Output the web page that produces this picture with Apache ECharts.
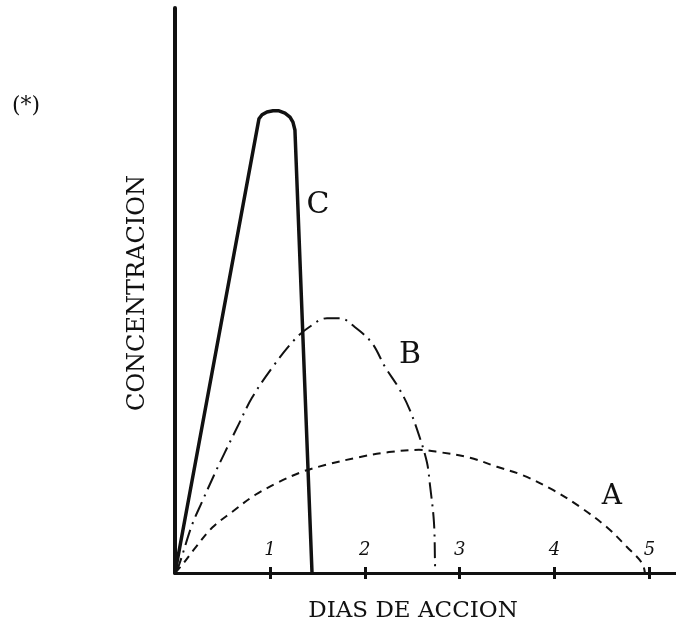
<!DOCTYPE html>
<html>
<head>
<meta charset="utf-8">
<script src="https://cdn.jsdelivr.net/npm/echarts@6/dist/echarts.min.js"></script>
<style>html,body{margin:0;padding:0;background:#fff}#c{width:676px;height:627px}</style>
</head>
<body>
<div id="c"></div>
<script>
// Days of action (x) vs concentration (y, arbitrary units 0-100)
var xTicks = [1, 2, 3, 4, 5];
var curveC = [[0,0],[0.875,79.5],[0.885,80.4],[0.917,81.1],[0.969,81.6],[1.033,81.8],[1.096,81.8],[1.159,81.4],[1.212,80.7],[1.243,79.8],[1.264,78.4],[1.444,0]];
var curveB = [[0,0],[0.042,1.4],[0.179,8.5],[0.285,12.6],[0.411,17.3],[0.527,21.4],[0.653,25.7],[0.811,31.0],[1.022,36.3],[1.254,41.2],[1.412,43.5],[1.602,45.1],[1.739,45.1],[1.897,43.5],[2.076,40.7],[2.213,36.5],[2.360,32.7],[2.466,29.2],[2.571,24.4],[2.655,19.6],[2.687,15.6],[2.729,9.0],[2.740,1.9],[2.742,0]];
var curveA = [[0,0],[0.074,1.4],[0.211,4.4],[0.390,8.0],[0.601,10.8],[0.843,13.8],[1.096,16.1],[1.338,17.9],[1.581,19.1],[1.939,20.5],[2.255,21.4],[2.571,21.8],[2.782,21.4],[3.109,20.4],[3.393,18.8],[3.667,17.3],[3.983,14.7],[4.268,11.7],[4.552,8.1],[4.763,4.6],[4.921,1.8],[4.953,0]];
var curveNames = ['C', 'B', 'A'];
var labelPos = [[1.507, 65.1], [2.476, 38.6], [4.605, 13.5]];
var xTitle = 'DIAS DE ACCION';
var yTitle = 'CONCENTRACION';
var note = '(*)';

var ink = '#111';
var chart = echarts.init(document.getElementById('c'), null, {renderer: 'canvas'});

function mp(i, size) {
  return {
    symbol: 'circle', symbolSize: 0, silent: true,
    data: [{coord: labelPos[i], value: curveNames[i]}],
    label: {show: true, formatter: curveNames[i], color: ink, fontFamily: 'DejaVu Serif', fontSize: size, position: 'inside'}
  };
}

chart.setOption({
  animation: false,
  backgroundColor: '#fff',
  grid: {left: 175, right: 0, top: 8, bottom: 54},
  xAxis: [{
    type: 'value', min: 0, max: 5.28, interval: 1,
    axisLine: {show: true, onZero: false, lineStyle: {color: ink, width: 3}},
    axisTick: {show: true, inside: true, length: 6, customValues: xTicks, lineStyle: {color: ink, width: 3}},
    axisLabel: {show: true, inside: true, margin: 14, color: ink, fontFamily: 'DejaVu Serif', fontStyle: 'italic', fontSize: 18,
      customValues: xTicks},
    splitLine: {show: false}
  }, {
    type: 'value', min: 0, max: 5.28, interval: 1, position: 'bottom',
    axisLine: {show: false},
    axisTick: {show: true, inside: false, length: 6, customValues: xTicks, lineStyle: {color: ink, width: 3}},
    axisLabel: {show: false},
    splitLine: {show: false}
  }],
  yAxis: {
    type: 'value', min: 0, max: 100,
    axisLine: {show: true, lineStyle: {color: ink, width: 4}},
    axisTick: {show: false}, axisLabel: {show: false}, splitLine: {show: false}
  },
  series: [{
    name: 'C', type: 'line', data: curveC, symbol: 'none', smooth: false,
    lineStyle: {color: ink, width: 3.5, join: 'round', cap: 'round'},
    markPoint: mp(0, 30)
  }, {
    name: 'B', type: 'line', data: curveB, symbol: 'none', smooth: 0.35,
    lineStyle: {color: ink, width: 2, type: [16, 6, 2, 6]},
    markPoint: mp(1, 30)
  }, {
    name: 'A', type: 'line', data: curveA, symbol: 'none', smooth: 0.35,
    lineStyle: {color: ink, width: 2, type: [8, 6]},
    markPoint: mp(2, 28)
  }],
  graphic: [
    {type: 'text', x: 26, y: 106, style: {text: note, fill: ink, font: '22px "DejaVu Serif"', textAlign: 'center', textVerticalAlign: 'middle'}},
    {type: 'text', x: 413, y: 611, style: {text: xTitle, fill: ink, font: '23px "DejaVu Serif"', textAlign: 'center', textVerticalAlign: 'middle'}},
    {type: 'text', x: 138, y: 293, rotation: Math.PI / 2, style: {text: yTitle, fill: ink, font: '24px "DejaVu Serif"', textAlign: 'center', textVerticalAlign: 'middle'}}
  ]
});
</script>
</body>
</html>
